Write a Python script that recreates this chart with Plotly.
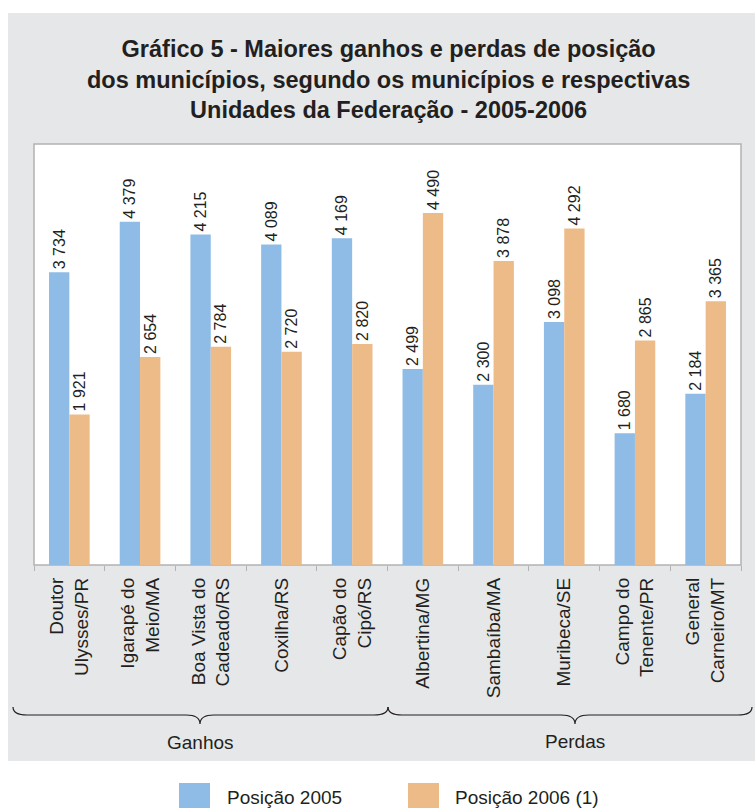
import plotly.graph_objects as go

# municípios (categorias) e posições
municipios = [
    "Doutor<br>Ulysses/PR", "Igarapé do<br>Meio/MA", "Boa Vista do<br>Cadeado/RS",
    "Coxilha/RS", "Capão do<br>Cipó/RS", "Albertina/MG", "Sambaíba/MA",
    "Muribeca/SE", "Campo do<br>Tenente/PR", "General<br>Carneiro/MT",
]
posicao_2005 = [3734, 4379, 4215, 4089, 4169, 2499, 2300, 3098, 1680, 2184]
posicao_2006 = [1921, 2654, 2784, 2720, 2820, 4490, 3878, 4292, 2865, 3365]
grupos = ["Ganhos", "Perdas"]
series = ["Posição 2005", "Posição 2006 (1)"]

AZUL = "#8fbce6"
LARANJA = "#edbb88"
CINZA = "#e6e7e8"
TXT = "#231f20"
FONT = "Liberation Sans"

W, H = 755, 808
PL, PR, PT, PB = 34, 741, 144, 565  # plot area in page pixels


def px(x):
    return (x - PL) / (PR - PL)


def py(y):
    return (PB - y) / (PB - PT)


def fmt(v):
    return f"{v:,}".replace(",", " ")


def brace(x0, x1, xm, ytop, ymid, ybot, r=14):
    return (f"M {px(x0)} {py(ytop)} Q {px(x0)} {py(ymid)} {px(x0 + r)} {py(ymid)} "
            f"L {px(xm - r)} {py(ymid)} Q {px(xm)} {py(ymid)} {px(xm)} {py(ybot)} "
            f"Q {px(xm)} {py(ymid)} {px(xm + r)} {py(ymid)} "
            f"L {px(x1 - r)} {py(ymid)} Q {px(x1)} {py(ymid)} {px(x1)} {py(ytop)}")


fig = go.Figure()
for nome, vals, cor in [(series[0], posicao_2005, AZUL), (series[1], posicao_2006, LARANJA)]:
    fig.add_trace(go.Bar(
        x=municipios, y=vals, name=nome, marker_color=cor, marker_line_width=0,
        text=[fmt(v) for v in vals], textposition="outside", textangle=-90,
        constraintext="none",
        textfont=dict(family=FONT, size=16, color=TXT), cliponaxis=False,
    ))

shapes = [
    # painel cinza
    dict(type="rect", xref="paper", yref="paper", layer="below",
         x0=px(8), x1=px(770), y0=py(761), y1=py(13),
         fillcolor=CINZA, line_width=0),
    # area do grafico
    dict(type="rect", xref="paper", yref="paper", layer="below",
         x0=0, x1=1, y0=0, y1=1, fillcolor="white",
         line=dict(color="#b3b3b3", width=1.5)),
    # chaves
    dict(type="path", xref="paper", yref="paper", path=brace(13, 388, 200, 707, 715, 724),
         line=dict(color=TXT, width=1.2)),
    dict(type="path", xref="paper", yref="paper", path=brace(388, 752, 575, 707, 715, 724),
         line=dict(color=TXT, width=1.2)),
    # legenda
    dict(type="rect", xref="paper", yref="paper", x0=px(179), x1=px(210),
         y0=py(812), y1=py(783), fillcolor=AZUL, line_width=0),
    dict(type="rect", xref="paper", yref="paper", x0=px(408), x1=px(439),
         y0=py(812), y1=py(783), fillcolor=LARANJA, line_width=0),
]


def label(text, x, y, size=19, xanchor="center"):
    return dict(text=text, xref="paper", yref="paper", x=px(x), y=py(y),
                xanchor=xanchor, yanchor="middle", showarrow=False,
                font=dict(family=FONT, size=size, color=TXT))


annotations = [
    label("<b>Gráfico 5 - Maiores ganhos e perdas de posição<br>"
          "dos municípios, segundo os municípios e respectivas<br>"
          "Unidades da Federação - 2005-2006</b>", 388, 80, size=23.5),
    label(grupos[0], 200, 742),
    label(grupos[1], 575, 741),
    label(series[0], 225, 797, xanchor="left"),
    label(series[1], 453, 797, xanchor="left"),
]

fig.update_layout(
    width=W, height=H,
    margin=dict(l=PL, r=W - PR, t=PT, b=H - PB),
    paper_bgcolor="white", plot_bgcolor="rgba(0,0,0,0)",
    barmode="group", bargap=0.425, bargroupgap=0,
    showlegend=False, shapes=shapes, annotations=annotations,
    font=dict(family=FONT, color=TXT),
    xaxis=dict(type="category", tickangle=-90, tickson="boundaries",
               ticks="outside", ticklen=5, tickcolor="#b3b3b3",
               ticklabelstandoff=8,
               showgrid=False, showline=False, zeroline=False,
               tickfont=dict(family=FONT, size=19, color=TXT)),
    yaxis=dict(range=[0, 5370], visible=False, showgrid=False),
)

# drop the default page margin so the figure fills the window
fig.write_html("out.html", config={"displayModeBar": False},
               post_script="document.body.style.margin = '0';")
